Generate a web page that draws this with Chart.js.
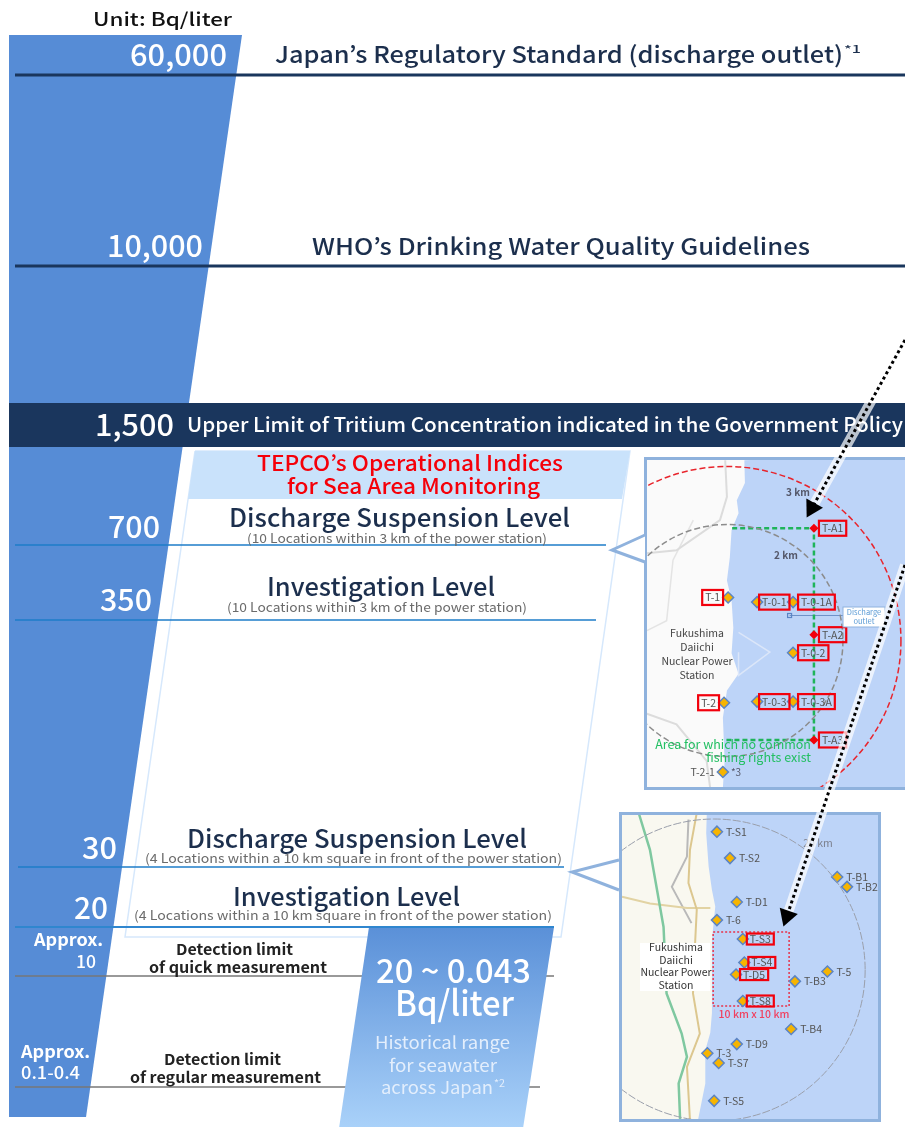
<!DOCTYPE html>
<html>
<head>
<meta charset="utf-8">
<title>Tritium concentration levels</title>
<script src="https://cdn.jsdelivr.net/npm/chart.js@4"></script>
<style>
    html, body { margin: 0; padding: 0; background: #fff; }
    body { position: relative; width: 905px; height: 1127px; overflow: hidden; }
    canvas { position: absolute; }
    #chart-main { left: 0; top: 0; z-index: 2; }
    #map-near { left: 644px; top: 457px; z-index: 1; }
    #map-far { left: 619px; top: 812px; z-index: 1; }
</style>
</head>
<body>
<canvas id="map-near" width="261" height="333"></canvas>
<canvas id="map-far" width="262" height="310"></canvas>
<canvas id="chart-main" width="905" height="1127"></canvas>
<script>
// concentrations, Bq/liter
const levels = [60000, 10000, 1500, 700, 350, 30, 20, 10, 0.25];
const wedgeRange = [100000, 0.1];
const seawaterRange = [20, 0.043];

const unitLabel = 'Unit: Bq/liter';
const levelTicks = ['60,000', '10,000', '1,500', '700', '350', '30', '20'];
const approxTicks = ['Approx.', '10', 'Approx.', '0.1-0.4'];
const standardNames = ["Japan\u2019s Regulatory Standard (discharge outlet)", "WHO\u2019s Drinking Water Quality Guidelines",
    'Upper Limit of Tritium Concentration indicated in the Government Policy'];
const indexTitle = ["TEPCO\u2019s Operational Indices", 'for Sea Area Monitoring'];
const indexNames = ['Discharge Suspension Level', 'Investigation Level'];
const nearNote = '(10 Locations within 3 km of the power station)';
const farNote = '(4 Locations within a 10 km square in front of the power station)';
const quickLimit = ['Detection limit', 'of quick measurement'];
const regularLimit = ['Detection limit', 'of regular measurement'];
const seawaterText = ['20 ~ 0.043', 'Bq/liter', 'Historical range', 'for seawater', 'across Japan'];
const stationName = ['Fukushima', 'Daiichi', 'Nuclear Power', 'Station'];

// map inside the 3 km range, km from the power station
const nearNames = ['T-1', 'T-0-1', 'T-0-1A', 'T-0-2', 'T-0-3', 'T-0-3A', 'T-2', 'T-2-1'];
const nearX = [0.02, 0.52, 1.14, 1.14, 0.52, 1.14, -0.05, -0.07];
const nearY = [0.74, 0.66, 0.66, -0.21, -1.05, -1.05, -1.07, -2.26];
const areaNames = ['T-A1', 'T-A2', 'T-A3'];
const areaX = [1.5, 1.5, 1.5];
const areaY = [1.93, 0.1, -1.71];
const fishingX = [0.09, 1.5, 1.5, -0.05];
const fishingY = [1.93, 1.93, -1.71, -1.71];
const nearCoastX = [0.3, 0.31, 0.17, 0.2, 0.08, 0.05, 0, 0.08, 0.11, 0.08, 0.2, 0, -0.07, -0.04, -0.07];
const nearCoastY = [3.1, 2.71, 2.41, 2.19, 1.9, 1.43, 1.03, 0.69, 0.22, -0.22, -0.57, -0.86, -1.33, -2.07, -2.53];
const nearRoadAX = [-1.38, -0.87, -0.12, 0, -0.03];
const nearRoadAY = [1.5, 1.55, 2.07, 2.47, 3.1];
const nearRoadBX = [-1.38, -0.87, -0.35, -0.29];
const nearRoadBY = [-1.26, -1.44, -2.07, -2.53];
const nearRoadCX = [-1.38, -1.04, -0.93, -0.58];
const nearRoadCY = [0.17, 0.34, 1.38, 2.07];
const harbourX = [0.2, 0.74, 0.2, 0.2];
const harbourY = [0.14, -0.2, -0.6, -0.2];
const outletX = [1.08, 2.0];
const outletY = [0.43, 0.43];
const nearRangesKm = [2, 3];

// map inside the 20 km range, km from the power station
const farNames = ['T-S1', 'T-S2', 'T-B1', 'T-B2', 'T-D1', 'T-6', 'T-S3', 'T-S4', 'T-D5', 'T-S8',
    'T-5', 'T-B3', 'T-B4', 'T-D9', 'T-3', 'T-S7', 'T-S5'];
const farX = [0.37, 2.1, 16.3, 17.6, 3, 0.37, 3.8, 4, 2.9, 3.8, 15, 10.7, 10.2, 3, -0.9, 0.6, 0];
const farY = [18.3, 14.8, 12.3, 11, 9, 6.6, 4.1, 1, -0.6, -4.1, -0.2, -1.5, -7.8, -9.8, -11, -12.3, -17.3];
const farBoxed = ['T-S3', 'T-S4', 'T-D5', 'T-S8'];
const squareX = [-0.13, 9.93, 9.93, -0.13, -0.13];
const squareY = [5.03, 5.03, -4.77, -4.77, 5.03];
const farCoastX = [-0.97, -1.05, -0.73, -0.29, 0.15, -0.07, -0.29, -0.29, -0.51, -1.17, -1.17, -2.05, -2.3];
const farCoastY = [20.8, 18.1, 13.7, 10.6, 8.4, 6.2, 4, -5.7, -8.3, -10.6, -15, -19.4, -20.5];
const highwayX = [-10, -8.5, -6.7, -6.3, -4.3, -3.6, -4.7, -4.5];
const highwayY = [20.8, 15.9, 5.7, -3.1, -8.4, -11.5, -15, -19.9];
const tanRoadX = [-2.3, -3.2, -3.4, -2.3, -2.5, -2.8, -1.9, -3.6, -3.2];
const tanRoadY = [20.8, 15.9, 11.5, 8, 4, -3.1, -8.4, -12.8, -19.9];
const crossRoadX = [-12.2, -8.5, -3.6, -0.5];
const crossRoadY = [9.7, 8.8, 8.2, 8.2];
const grayRoadX = [-3.4, -3.6, -5.6, -3];
const grayRoadY = [19.9, 15, 11, 6.2];
const farRangesKm = [20];

const FONT = '"Noto Sans CJK JP", "Noto Sans", sans-serif';
const NAVY = '#1a365d';
const INK = '#1c2f4d';

function toPoints(xs, ys) {
    return xs.map((x, i) => ({ x: x, y: ys[i] }));
}

// y axis of the ladder: log spacing between hand placed rungs, like the original diagram
class LadderScale extends Chart.Scale {
    determineDataLimits() {
        const rungs = this.options.rungs;
        this.min = rungs[rungs.length - 1][0];
        this.max = rungs[0][0];
    }
    buildTicks() {
        return this.options.rungs.map(r => ({ value: r[0] }));
    }
    getPixelForValue(value) {
        const rungs = this.options.rungs;
        const v = Math.log10(value);
        for (let i = 0; i < rungs.length - 1; i++) {
            const a = Math.log10(rungs[i][0]);
            const b = Math.log10(rungs[i + 1][0]);
            if (v <= a && v >= b) {
                return this.top + rungs[i][1] + (a - v) / (a - b) * (rungs[i + 1][1] - rungs[i][1]);
            }
        }
        return this.bottom;
    }
    getValueForPixel(pixel) {
        const rungs = this.options.rungs;
        for (let i = 0; i < rungs.length - 1; i++) {
            if (pixel >= rungs[i][1] && pixel <= rungs[i + 1][1]) {
                const a = Math.log10(rungs[i][0]);
                const b = Math.log10(rungs[i + 1][0]);
                return Math.pow(10, a + (pixel - rungs[i][1]) / (rungs[i + 1][1] - rungs[i][1]) * (b - a));
            }
        }
        return this.min;
    }
}
LadderScale.id = 'ladder';
LadderScale.defaults = {};
Chart.register(LadderScale);

function fitText(ctx, text, left, right, y, size, color, weight) {
    ctx.save();
    ctx.font = (weight || 500) + ' ' + size + 'px ' + FONT;
    ctx.fillStyle = color;
    ctx.textAlign = 'left';
    ctx.textBaseline = 'middle';
    const w = ctx.measureText(text).width;
    ctx.translate(left, y);
    ctx.scale((right - left) / w, 1);
    ctx.fillText(text, 0, 0);
    ctx.restore();
}

const mainText = {
    id: 'mainText',
    beforeDatasetDraw(chart, args) {
        if (args.index !== 3) return;
        const c = chart.ctx;
        fitText(c, unitLabel, 93, 232, 19, 18, '#111');

        fitText(c, levelTicks[0], 130, 227, 55, 30, '#fff');
        fitText(c, levelTicks[1], 107, 203, 246, 30, '#fff');
        fitText(c, levelTicks[2], 95, 174, 425, 30, '#fff');
        fitText(c, levelTicks[3], 108, 160, 527, 30, '#fff');
        fitText(c, levelTicks[4], 100, 152, 600, 30, '#fff');
        fitText(c, levelTicks[5], 82, 117, 848, 30, '#fff');
        fitText(c, levelTicks[6], 74, 108, 908, 30, '#fff');
        fitText(c, approxTicks[0], 34, 103, 940, 17, '#fff', 700);
        fitText(c, approxTicks[1], 76, 96, 962, 17, '#fff', 500);
        fitText(c, approxTicks[2], 21, 90, 1052, 17, '#fff', 700);
        fitText(c, approxTicks[3], 21, 80, 1073, 17, '#fff', 500);

        fitText(c, standardNames[0], 275, 843, 54, 23, INK);
        fitText(c, '*1', 844, 861, 49, 10, INK);
        fitText(c, standardNames[1], 312, 810, 246, 23, INK);
        fitText(c, standardNames[2], 187, 903, 424, 20, '#fff');

        fitText(c, indexTitle[0], 257, 563, 463, 21, '#f5000a');
        fitText(c, indexTitle[1], 287, 540, 486, 21, '#f5000a');
        fitText(c, indexNames[0], 229, 570, 517, 25, INK);
        fitText(c, nearNote, 247, 547, 538, 12.5, '#6b6b6b', 400);
        fitText(c, indexNames[1], 267, 495, 586, 25, INK);
        fitText(c, nearNote, 227, 527, 607, 12.5, '#6b6b6b', 400);
        fitText(c, indexNames[0], 187, 527, 838, 25, INK);
        fitText(c, farNote, 145, 562, 858, 12.5, '#6b6b6b', 400);
        fitText(c, indexNames[1], 233, 460, 896, 25, INK);
        fitText(c, farNote, 134, 552, 915, 12.5, '#6b6b6b', 400);

        fitText(c, quickLimit[0], 176, 293, 949, 15, '#222', 700);
        fitText(c, quickLimit[1], 149, 327, 967, 15, '#222', 700);
        fitText(c, regularLimit[0], 164, 281, 1059, 15, '#222', 700);
        fitText(c, regularLimit[1], 130, 321, 1077, 15, '#222', 700);

        fitText(c, seawaterText[0], 376, 531, 970, 33, '#fff');
        fitText(c, seawaterText[1], 395, 514, 1003, 35, '#fff');
        fitText(c, seawaterText[2], 375, 510, 1043, 17, '#e3eefc', 400);
        fitText(c, seawaterText[3], 389, 497, 1066, 17, '#e3eefc', 400);
        fitText(c, seawaterText[4], 381, 493, 1088, 17, '#e3eefc', 400);
        fitText(c, '*2', 494, 505, 1083, 10, '#e3eefc', 400);
    }
};

function rule(value, left, right, color, width) {
    return {
        data: [{ x: left, y: value }, { x: right, y: value }],
        yAxisID: 'y',
        borderColor: color,
        borderWidth: width,
        pointRadius: 0,
        showLine: true
    };
}

function pagePoly(xs, ys, fillColor, lineColor, lineWidth) {
    return {
        data: toPoints(xs, ys),
        yAxisID: 'yPage',
        showLine: true,
        pointRadius: 0,
        fill: fillColor ? 'shape' : false,
        backgroundColor: fillColor || 'transparent',
        borderColor: lineColor || 'transparent',
        borderWidth: lineWidth || 0
    };
}

function arrow(xs, ys, rotation) {
    return {
        data: toPoints(xs, ys),
        yAxisID: 'yPage',
        showLine: true,
        borderColor: '#000',
        borderWidth: 3,
        borderDash: [3, 3],
        pointStyle: 'triangle',
        pointRadius: ctx => ctx.dataIndex === xs.length - 1 ? 11 : 0,
        pointRotation: rotation,
        pointBackgroundColor: '#000',
        pointBorderWidth: 0
    };
}

function glow(xs, ys) {
    return {
        data: toPoints(xs, ys),
        yAxisID: 'yPage',
        showLine: true,
        borderColor: 'rgba(255,255,255,0.7)',
        borderWidth: 10,
        pointRadius: 0
    };
}

function drawMain() {
    const canvas = document.getElementById('chart-main');
    const ctx = canvas.getContext('2d');
    const seaGradient = ctx.createLinearGradient(0, 927, 0, 1127);
    seaGradient.addColorStop(0, '#5a90d8');
    seaGradient.addColorStop(1, '#a9d1f9');

    const datasets = [
        // first listed is painted last
        arrow([905, 812], [340, 508], 209),
        arrow([905, 787], [565, 916], 199),
        glow([905, 812], [340, 508]),
        glow([905, 787], [565, 916]),
        pagePoly([645, 612, 645], [535, 550, 562], '#fff', '#8fb2dd', 3),
        pagePoly([619, 572, 619], [860, 872, 890], '#fff', '#8fb2dd', 3),
        rule(levels[6], 15, 554, '#2f86cf', 2),
        {
            data: [{ x: 369, y: seawaterRange[0] }, { x: 554, y: seawaterRange[0] },
                { x: 522, y: seawaterRange[1] }, { x: 338, y: seawaterRange[1] }],
            yAxisID: 'y',
            showLine: true,
            pointRadius: 0,
            fill: 'shape',
            backgroundColor: seaGradient,
            borderWidth: 0
        },
        rule(levels[0], 15, 905, NAVY, 3),
        rule(levels[1], 15, 905, NAVY, 3),
        rule(levels[3], 15, 606, '#1e7cc8', 1.5),
        rule(levels[4], 15, 596, '#1e7cc8', 1.5),
        rule(levels[5], 18, 564, '#1e7cc8', 1.5),
        rule(levels[7], 15, 554, '#777', 1.5),
        rule(levels[8], 15, 540, '#777', 1.5),
        rule(levels[2], 9, 905, NAVY, 44),
        {
            data: [{ x: 9, y: wedgeRange[0] }, { x: 242, y: wedgeRange[0] },
                { x: 86, y: wedgeRange[1] }, { x: 9, y: wedgeRange[1] }],
            yAxisID: 'y',
            showLine: true,
            pointRadius: 0,
            fill: 'shape',
            backgroundColor: '#568cd6',
            borderWidth: 0
        },
        pagePoly([195, 630, 622, 188], [451, 451, 499, 499], '#c9e2fb'),
        pagePoly([195, 630, 561, 125, 195], [451, 451, 937, 937, 451], null, '#d6e8fc', 1.5)
    ];

    new Chart(ctx, {
        type: 'scatter',
        data: { datasets: datasets },
        options: {
            responsive: false,
            animation: false,
            events: [],
            layout: { padding: 0, autoPadding: false },
            plugins: { legend: { display: false }, tooltip: { enabled: false } },
            scales: {
                x: { type: 'linear', min: 0, max: 905, display: false },
                y: {
                    type: 'ladder',
                    display: false,
                    rungs: [[100000, 35], [60000, 75], [10000, 266], [1500, 425], [700, 545], [350, 620],
                        [30, 867], [20, 927], [10, 976], [0.25, 1087], [0.1, 1117], [0.043, 1135]]
                },
                yPage: { type: 'linear', min: 0, max: 1127, reverse: true, display: false }
            }
        },
        plugins: [mainText]
    });
}

// shared map drawing, maps are km grids centred on the power station
function line(xs, ys, color, width, dash) {
    return {
        data: toPoints(xs, ys),
        showLine: true,
        pointRadius: 0,
        borderColor: color,
        borderWidth: width,
        borderDash: dash || []
    };
}

function diamonds(xs, ys, fillColor, edgeColor, radius) {
    return {
        data: toPoints(xs, ys),
        showLine: false,
        pointStyle: 'rectRot',
        pointRadius: radius,
        pointBackgroundColor: fillColor,
        pointBorderColor: edgeColor,
        pointBorderWidth: 1.5
    };
}

function stationLabel(c, px, py, text, side, boxed, gap, boxH) {
    c.font = '400 10.5px ' + FONT;
    const w = c.measureText(text).width;
    const boxW = w + 6;
    const left = side === 'left' ? px - gap - boxW : px + gap;
    c.fillStyle = '#555';
    c.textAlign = 'left';
    c.textBaseline = 'middle';
    c.fillText(text, left + 3, py);
    if (boxed) {
        c.strokeStyle = '#f2000c';
        c.lineWidth = 2.2;
        c.strokeRect(left, py - boxH / 2, boxW, boxH);
    }
}

function mapFrame(options) {
    return {
        id: 'mapFrame',
        beforeDatasetsDraw(chart) {
            const c = chart.ctx;
            const a = chart.chartArea;
            c.save();
            c.fillStyle = options.land;
            c.fillRect(a.left, a.top, a.right - a.left, a.bottom - a.top);
            c.restore();
        },
        afterDatasetsDraw(chart) {
            const c = chart.ctx;
            const a = chart.chartArea;
            const sx = chart.scales.x;
            const sy = chart.scales.y;
            c.save();
            c.beginPath();
            c.rect(a.left, a.top, a.right - a.left, a.bottom - a.top);
            c.clip();
            options.ranges.forEach((km, i) => {
                c.beginPath();
                c.strokeStyle = options.rangeColors[i];
                c.lineWidth = options.rangeWidth;
                c.setLineDash(options.rangeDash);
                c.arc(sx.getPixelForValue(0), sy.getPixelForValue(0), sx.getPixelForValue(km) - sx.getPixelForValue(0), 0, Math.PI * 2);
                c.stroke();
            });
            c.setLineDash([]);
            c.restore();
            c.save();
            options.text(c, sx, sy);
            c.restore();
            c.save();
            c.strokeStyle = '#8fb2dd';
            c.lineWidth = 3;
            c.strokeRect(1.5, 1.5, options.frameW, chart.height - 3);
            c.restore();
        }
    };
}

function drawMap(id, xRange, yRange, datasets, frame) {
    new Chart(document.getElementById(id), {
        type: 'scatter',
        data: { datasets: datasets },
        options: {
            responsive: false,
            animation: false,
            events: [],
            layout: { padding: 0, autoPadding: false },
            plugins: { legend: { display: false }, tooltip: { enabled: false } },
            scales: {
                x: { type: 'linear', min: xRange[0], max: xRange[1], display: false },
                y: { type: 'linear', min: yRange[0], max: yRange[1], display: false }
            }
        },
        plugins: [mapFrame(frame)]
    });
}

function drawNearMap() {
    const xRange = [-1.43, 3.07];
    const yRange = [-2.57, 3.155];
    const seaX = nearCoastX.concat([3.1, 3.1]);
    const seaY = nearCoastY.concat([-2.6, 3.2]);
    const datasets = [
        diamonds(nearX, nearY, '#f6b400', '#5b84c4', 5.5),
        diamonds(areaX, areaY, '#f2000c', '#f2000c', 3.5),
        line(fishingX, fishingY, '#1fb45a', 2.5, [5, 3]),
        line(outletX, outletY, '#6f92c9', 1.2),
        line(harbourX, harbourY, '#dbe6f9', 1.5),
        Object.assign(line(seaX, seaY, '#bdd4f8', 0), { fill: 'shape', backgroundColor: '#bdd4f8' }),
        line(nearRoadAX, nearRoadAY, '#dcdcdc', 2),
        line(nearRoadBX, nearRoadBY, '#dcdcdc', 2),
        line(nearRoadCX, nearRoadCY, '#e4e4e4', 1.5)
    ];
    drawMap('map-near', xRange, yRange, datasets, {
        land: '#fafafa',
        ranges: nearRangesKm,
        rangeColors: ['#8c8c8c', '#e8242c'],
        rangeDash: [6, 3],
        rangeWidth: 1.5,
        frameW: 270,
        text(c, sx, sy) {
            nearNames.forEach((name, i) => {
                const px = sx.getPixelForValue(nearX[i]);
                const py = sy.getPixelForValue(nearY[i]);
                const left = name === 'T-1' || name === 'T-2' || name === 'T-2-1';
                const tight = name === 'T-0-1' || name === 'T-0-3';
                stationLabel(c, px, py, name, left ? 'left' : 'right', name !== 'T-2-1', tight ? 2 : 5, 15);
            });
            areaNames.forEach((name, i) => {
                stationLabel(c, sx.getPixelForValue(areaX[i]), sy.getPixelForValue(areaY[i]), name, 'right', true, 5, 15);
            });
            c.fillStyle = '#444';
            c.textAlign = 'center';
            c.textBaseline = 'middle';
            c.font = '400 10.5px ' + FONT;
            stationName.forEach((t, i) => c.fillText(t, 53, 176 + i * 14));
            c.font = '700 10px ' + FONT;
            c.fillStyle = '#55586a';
            c.fillText('3 km', 154, 35);
            c.fillText('2 km', 142, 98);
            c.font = '400 10px ' + FONT;
            c.fillText('*3', 92, 315);
            c.fillStyle = '#22bf62';
            c.font = '400 12.5px ' + FONT;
            c.textAlign = 'right';
            c.fillText('Area for which no common', 167, 287);
            c.fillText('fishing rights exist', 167, 300);
            c.fillStyle = '#fff';
            c.fillRect(199, 150, 42, 20);
            c.strokeStyle = '#8fb2dd';
            c.lineWidth = 1;
            c.strokeRect(199, 150, 42, 20);
            c.fillStyle = '#5b9bd5';
            c.font = '400 7.5px ' + FONT;
            c.textAlign = 'center';
            c.fillText('Discharge', 220, 155);
            c.fillText('outlet', 220, 164);
            c.strokeStyle = '#5b84c4';
            c.lineWidth = 1.2;
            c.strokeRect(sx.getPixelForValue(outletX[0]) - 2, sy.getPixelForValue(outletY[0]) - 2, 4, 4);
        }
    });
}

function drawFarMap() {
    const xRange = [-12.6, 22.1];
    const yRange = [-20.1, 20.9];
    const seaX = farCoastX.concat([22.5, 22.5]);
    const seaY = farCoastY.concat([-20.5, 21]);
    const datasets = [
        diamonds(farX, farY, '#f6b400', '#5b84c4', 5.5),
        line(squareX, squareY, '#e8334a', 1.5, [2, 2]),
        Object.assign(line(seaX, seaY, '#bdd4f8', 0), { fill: 'shape', backgroundColor: '#bdd4f8' }),
        line(highwayX, highwayY, '#7fc8a0', 2.5),
        line(tanRoadX, tanRoadY, '#dcc78f', 2),
        line(crossRoadX, crossRoadY, '#e2d3a3', 2),
        line(grayRoadX, grayRoadY, '#b9b9b9', 2)
    ];
    drawMap('map-far', xRange, yRange, datasets, {
        land: '#f9f8f0',
        ranges: farRangesKm,
        rangeColors: ['#9a9fab'],
        rangeDash: [8, 2],
        rangeWidth: 1,
        frameW: 259,
        text(c, sx, sy) {
            farNames.forEach((name, i) => {
                const boxed = farBoxed.indexOf(name) >= 0;
                stationLabel(c, sx.getPixelForValue(farX[i]), sy.getPixelForValue(farY[i]), name, 'right', boxed, boxed ? 4 : 6, 11);
            });
            c.fillStyle = '#fff';
            c.fillRect(21, 131, 70, 48);
            c.fillStyle = '#333';
            c.textAlign = 'center';
            c.textBaseline = 'middle';
            c.font = '400 10.5px ' + FONT;
            stationName.forEach((t, i) => c.fillText(t, 57, 135 + i * 12.7));
            c.fillStyle = '#f0405f';
            c.font = '500 10.5px ' + FONT;
            c.fillText('10 km x 10 km', 135, 202);
            c.fillStyle = '#7b7f8c';
            c.font = '400 10.5px ' + FONT;
            c.fillText('20 km', 199, 31);
        }
    });
}

drawNearMap();
drawFarMap();
drawMain();
</script>
</body>
</html>
